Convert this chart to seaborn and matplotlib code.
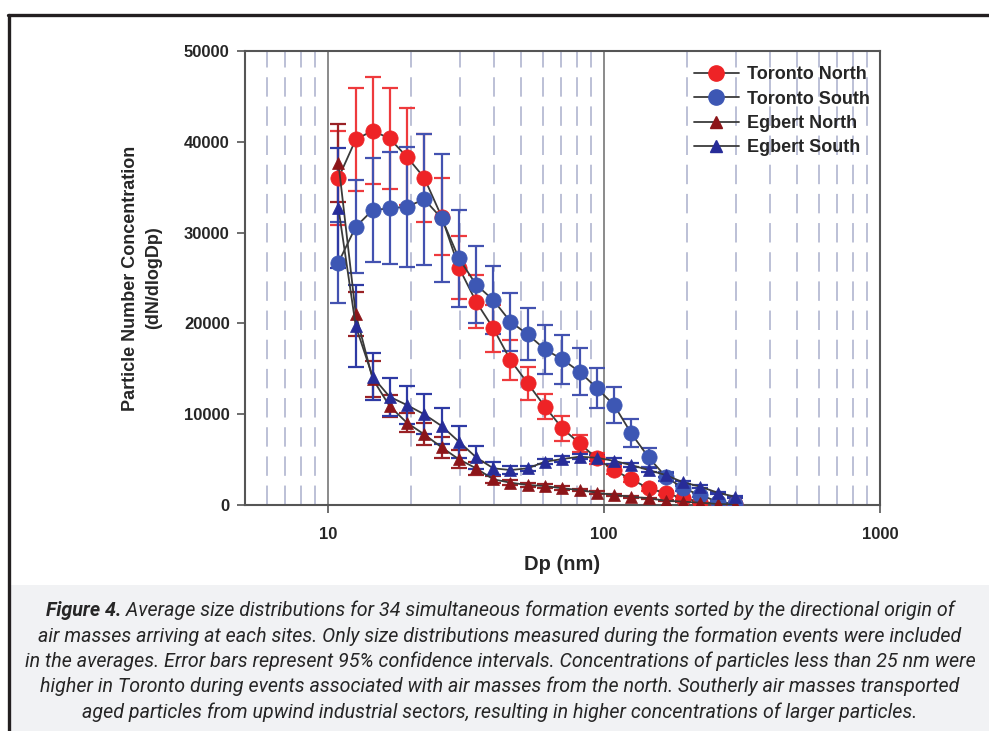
import matplotlib
matplotlib.use("Agg")
import numpy as np
import pandas as pd
import seaborn as sns
import matplotlib.pyplot as plt
from matplotlib import font_manager
from matplotlib.lines import Line2D
from matplotlib.patches import Rectangle

#### DATA ###
# particle diameter channels, nm
DP = [10.9, 12.6, 14.5, 16.7, 19.3, 22.3, 25.8, 29.8, 34.4, 39.7, 45.8, 52.9,
      61.1, 70.6, 81.5, 94.1, 108.7, 125.5, 145.0, 167.4, 193.3, 223.3, 257.8, 297.7]

toronto_north = [36000, 40260, 41220, 40370, 38350, 36040, 31740, 26150, 22380, 19450, 15960, 13400,
                 10820, 8440, 6790, 5140, 3850, 2830, 1840, 1290, 740, 370, 150, 100]
toronto_north_err = [5200, 5700, 5870, 5600, 5330, 4850, 4230, 3500, 2940, 2550, 2200, 1830,
                     1370, 1360, 920, 600, 400, 300, 250, 200, 150, 100, 80, 60]

toronto_south = [26700, 30640, 32480, 32670, 32850, 33660, 31570, 27160, 24260, 22570, 20180, 18790,
                 17140, 16040, 14680, 12890, 11010, 7890, 5250, 3120, 1840, 1100, 370, 110]
toronto_south_err = [4500, 5100, 5760, 6160, 6600, 7200, 7040, 5320, 4250, 3740, 3200, 2860,
                     2680, 2680, 2570, 2200, 2000, 1540, 1060, 500, 300, 200, 100, 50]

egbert_north = [37700, 21030, 13900, 10900, 9060, 7780, 6350, 5030, 4040, 2830, 2460, 2200,
                2090, 1840, 1650, 1350, 1100, 910, 740, 470, 370, 250, 110, 50]
egbert_north_err = [4300, 2460, 2000, 1200, 1030, 1200, 1150, 1000, 700, 400, 300, 250,
                    200, 200, 150, 150, 100, 100, 80, 60, 50, 40, 30, 20]

egbert_south = [32700, 19700, 14130, 11930, 11010, 9990, 8700, 6970, 5250, 4040, 3850, 4040,
                4770, 5060, 5320, 5200, 4860, 4400, 3850, 3300, 2500, 2020, 1360, 910]
egbert_south_err = [6600, 4500, 2570, 2090, 2130, 2200, 1950, 1760, 1250, 730, 400, 300,
                    300, 300, 300, 300, 300, 250, 200, 200, 150, 150, 100, 100]

SERIES = ["Toronto North", "Toronto South", "Egbert North", "Egbert South"]
MARKERS = {"Toronto North": "o", "Toronto South": "o", "Egbert North": "^", "Egbert South": "^"}
FACE = {"Toronto North": "#ee2326", "Toronto South": "#3d57b4",
        "Egbert North": "#8c1519", "Egbert South": "#272c98"}
ERRC = {"Toronto North": "#ee3a3d", "Toronto South": "#4352b0",
        "Egbert North": "#9a2226", "Egbert South": "#2e3aa4"}

CAPTION_BOLD = "Figure 4."
CAPTION = [
    " Average size distributions for 34 simultaneous formation events sorted by the directional origin of",
    "air masses arriving at each sites. Only size distributions measured during the formation events were included",
    "in the averages. Error bars represent 95% confidence intervals. Concentrations of particles less than 25 nm were",
    "higher in Toronto during events associated with air masses from the north. Southerly air masses transported",
    "aged particles from upwind industrial sectors, resulting in higher concentrations of larger particles.",
]

frames = []
for name, vals, errs in [("Toronto North", toronto_north, toronto_north_err),
                         ("Toronto South", toronto_south, toronto_south_err),
                         ("Egbert North", egbert_north, egbert_north_err),
                         ("Egbert South", egbert_south, egbert_south_err)]:
    frames.append(pd.DataFrame({"Dp": DP, "conc": vals, "err": errs, "site": name}))
df = pd.concat(frames, ignore_index=True)

sns.set_style("white")
names = {f.name for f in font_manager.fontManager.ttflist}
cap_font = "Liberation Sans Narrow" if "Liberation Sans Narrow" in names else "Roboto"
plt.rcParams["font.family"] = ["Liberation Sans", "DejaVu Sans"]

fig = plt.figure(figsize=(9.89, 7.31), dpi=100)
ax = fig.add_axes([245 / 989, 1 - 505 / 731, 635 / 989, 454 / 731])

# vertical grid: solid at decades, dashed in between
for v in [10, 100]:
    ax.axvline(v, color="#6b6b6b", lw=1.1, zorder=0)
for dec in [1, 10, 100]:
    for m in range(2, 10):
        v = m * dec
        if 5 < v < 1000:
            ax.axvline(v, color="#bcc0d6", lw=1.4, ls=(0, (10, 5)), zorder=0)

handles = []
for name in SERIES:
    d = df[df["site"] == name]
    ax.errorbar(d["Dp"], d["conc"], yerr=d["err"], fmt="none", ecolor=ERRC[name],
                elinewidth=1.6, capsize=5.5, capthick=1.6, zorder=2)
for name in SERIES:
    d = df[df["site"] == name]
    ms = 11 if MARKERS[name] == "o" else 9
    sns.lineplot(data=d, x="Dp", y="conc", ax=ax, color="#3a3a3a", lw=1.3,
                 marker=MARKERS[name], markersize=ms, markerfacecolor=FACE[name],
                 markeredgecolor=FACE[name], markeredgewidth=0.5, zorder=3, legend=False)
    handles.append(Line2D([], [], color="#3a3a3a", lw=1.3, marker=MARKERS[name],
                          markersize=ms, markerfacecolor=FACE[name], markeredgecolor=FACE[name],
                          label=name))

ax.set_xscale("log")
ax.set_xlim(5, 1000)
ax.set_ylim(0, 50000)
ax.set_xticks([10, 100, 1000])
ax.set_xticklabels(["10", "100", "1000"])
ax.xaxis.set_minor_locator(matplotlib.ticker.NullLocator())
ax.set_yticks([0, 10000, 20000, 30000, 40000, 50000])
ax.tick_params(axis="both", which="major", direction="out", length=6, width=1.2,
               color="#555555", labelsize=12, bottom=True, left=True)
ax.tick_params(axis="x", pad=10)
ax.tick_params(axis="y", pad=5)
for lab in ax.get_xticklabels() + ax.get_yticklabels():
    lab.set_fontweight("bold")
for sp in ax.spines.values():
    sp.set_color("#555555")
    sp.set_linewidth(1.5)

ax.set_xlabel("Dp (nm)", fontsize=14.5, fontweight="bold", labelpad=9)
ax.set_ylabel("Particle Number Concentration\n(dN/dlogDp)", fontsize=13, fontweight="bold",
              labelpad=16, linespacing=1.45)

ax.legend(handles=handles, loc="upper left", bbox_to_anchor=(0.695, 0.982), frameon=False,
          prop={"weight": "bold", "size": 13}, handlelength=2.5, handletextpad=0.45,
          labelspacing=0.4, borderaxespad=0)

# page frame and caption box
fig.add_artist(Rectangle((10 / 989, 0), 1, 146 / 731, transform=fig.transFigure,
                         facecolor="#f1f2f4", edgecolor="none", zorder=-1))
fig.add_artist(Line2D([8 / 989, 1], [1 - 15 / 731, 1 - 15 / 731], color="#231f20", lw=2.4))
fig.add_artist(Line2D([9 / 989, 9 / 989], [0, 1 - 15 / 731], color="#231f20", lw=2.4))

cap_size = 14.1
cap_cx = 500
line_y = [610, 636, 661, 686, 712]
fig.canvas.draw()
renderer = fig.canvas.get_renderer()
for i, line in enumerate(CAPTION):
    y = 1 - line_y[i] / 731
    if i == 0:
        tb = fig.text(0, y, CAPTION_BOLD, family=[cap_font, "DejaVu Sans"], style="italic",
                      weight="bold", fontsize=cap_size, va="center", ha="left")
        tr = fig.text(0, y, line, family=[cap_font, "DejaVu Sans"], style="italic",
                      fontsize=cap_size, va="center", ha="left")
        wb = tb.get_window_extent(renderer).width
        wr = tr.get_window_extent(renderer).width
        x0 = cap_cx - (wb + wr) / 2
        tb.set_x(x0 / 989)
        tr.set_x((x0 + wb) / 989)
    else:
        fig.text(cap_cx / 989, y, line, family=[cap_font, "DejaVu Sans"], style="italic",
                 fontsize=cap_size, va="center", ha="center")

fig.savefig("out.png", dpi=100)
